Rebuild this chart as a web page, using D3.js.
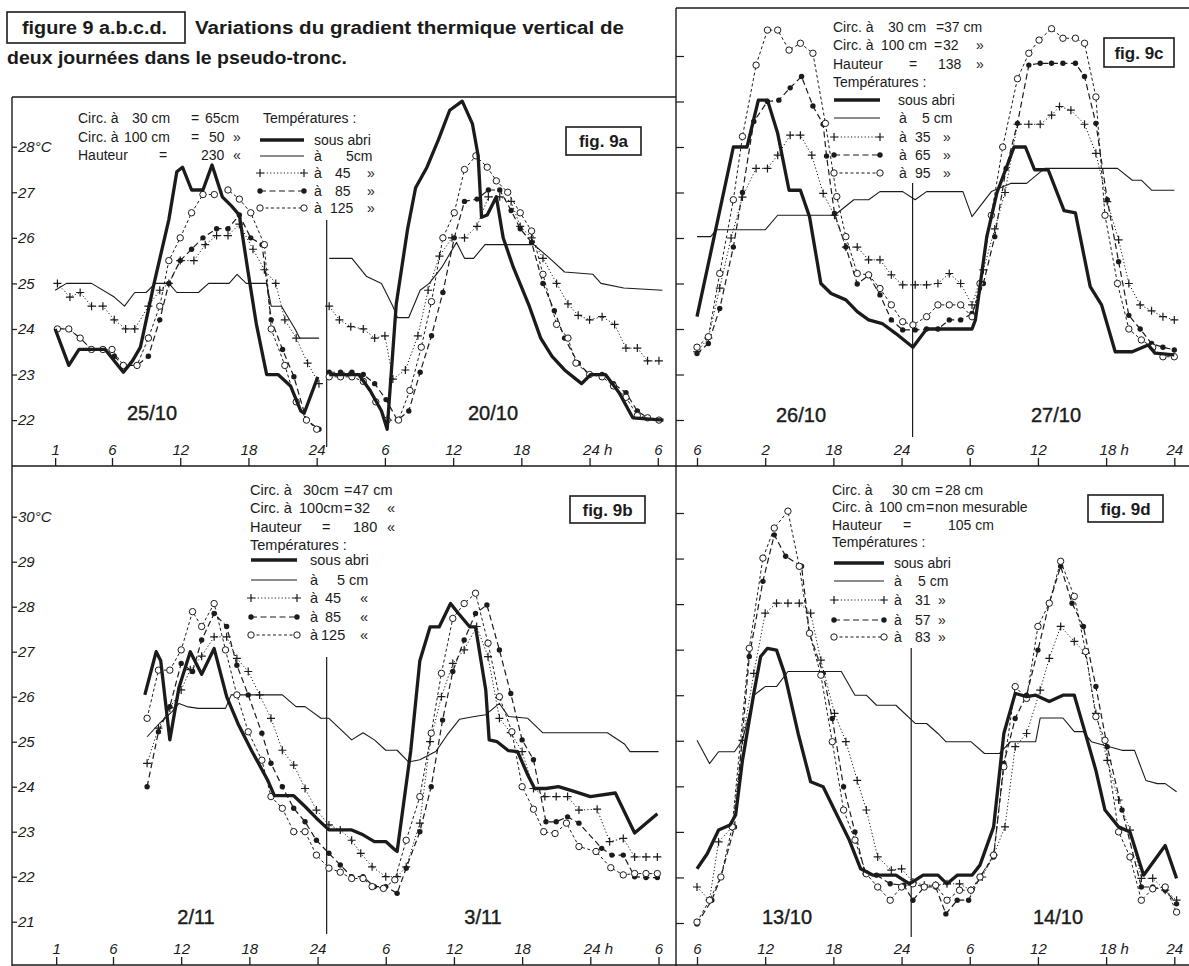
<!DOCTYPE html>
<html>
<head>
<meta charset="utf-8">
<script src="https://cdn.jsdelivr.net/npm/d3@7"></script>
<style>
  body { margin: 0; background: #fff; }
  svg text { font-family: "Liberation Sans", Arial, sans-serif; fill: #1b1b1b; }
  .tick text { font-size: 15px; font-style: italic; }
  .leg { font-size: 14px; }
  .legb { font-size: 14.5px; }
  .day { font-size: 20px; stroke: #1b1b1b; stroke-width: 0.4; }
  .fig { font-size: 17px; font-weight: bold; }
  .title { font-size: 18px; font-weight: bold; }
</style>
</head>
<body>
<svg id="fig" width="1189" height="966"></svg>
<script>
// hours counted from 0h of the first day of each panel, values in °C

// fig 9a, 25/10 then 20/10
const a1_abri = [[1,24.0],[2.2,23.2],[3.1,23.55],[5.4,23.55],[7,23.05],[7.8,23.3],[8.5,23.6],[9.7,25.0],[11,26.4],[11.7,27.45],[12.2,27.55],[13,27.05],[14,27.05],[14.8,27.6],[15.7,26.9],[16.5,26.7],[17.2,26.5],[18,25.2],[18.7,24.1],[19.6,23.0],[20.6,23.0],[21.7,22.75],[22.6,22.2],[22.9,22.15],[24.1,22.95]];
const a1_5 = [[1,24.85],[2,25.0],[4.2,25.0],[6.2,24.7],[7.1,24.5],[8,24.8],[9,24.8],[9.8,25.0],[11,25.0],[11.7,24.8],[13.6,24.8],[14.5,25.0],[16.3,25.0],[17,25.2],[17.8,25.0],[19.6,25.0],[20,24.5],[20.9,24.5],[22.1,24.0],[22.5,23.8],[24.2,23.8]];
const a1_45 = [[1.2,25.0],[2.3,24.7],[3.2,24.8],[4.2,24.5],[5.2,24.5],[6.2,24.2],[7.2,24.0],[8,24.0],[9.2,24.5],[10.2,24.85],[11,25.0],[12,25.5],[13.2,25.5],[14.2,25.85],[15.2,26.05],[16.2,26.05],[17.2,26.3],[18.4,25.75],[19.4,25.3],[20.4,25.0],[21.2,24.2],[22.2,23.8],[23.2,23.25],[24.2,22.8]];
const a1_85 = [[1.2,24.0],[2.2,24.0],[3.2,23.8],[4.2,23.55],[5.2,23.55],[6.2,23.4],[7,23.2],[8.2,23.2],[9.2,23.4],[10.2,24.2],[11,25.0],[12,25.5],[13,25.75],[14,26.0],[15.2,26.2],[16.2,26.2],[17.2,26.5],[18.2,26.0],[19.2,25.85],[20,24.2],[21,23.55],[22,22.95],[23.1,22.0],[24.2,21.8]];
const a1_125 = [[1.2,24.0],[2.2,24.0],[3.2,23.8],[4.2,23.55],[5.2,23.55],[6,23.55],[7,23.2],[8.2,23.2],[9.2,23.8],[10.2,24.5],[11,25.5],[12,26.0],[13,26.55],[14,26.95],[15,26.95],[16.2,27.05],[17.2,26.85],[18.2,26.55],[19.4,25.85],[20,24.0],[21.2,23.2],[22.2,22.4],[23.1,22.0],[24,21.8]];
const a2_abri = [[25.1,23.0],[27.7,23.0],[28.7,22.65],[29.7,22.2],[30.2,21.8],[31,24.55],[32,26.2],[32.7,27.1],[33.7,27.55],[34.7,28.15],[35.7,28.8],[36.8,29.0],[37.7,28.5],[38.2,27.8],[38.5,26.45],[39,26.5],[39.8,26.9],[40.4,26.0],[41.3,25.35],[42.7,24.5],[43.7,23.8],[44.7,23.4],[45.8,23.1],[46.8,22.9],[47.3,22.8],[48.1,23.0],[49.4,23.0],[50.6,22.6],[51.8,22.05],[54.5,22.0]];
const a2_5 = [[25.1,25.55],[27.1,25.55],[28.4,25.15],[29.7,25.0],[30.7,24.5],[31.1,24.25],[32.1,24.25],[33.1,24.85],[33.9,25.0],[35,25.35],[36.3,25.9],[37,25.55],[37.8,25.55],[38.8,25.85],[43.1,25.85],[44.5,25.55],[45.8,25.25],[48.3,25.2],[49,25.0],[51,24.9],[54.4,24.85]];
const a2_45 = [[25.1,24.5],[26,24.2],[27,24.05],[28.1,24.0],[29.1,23.8],[30,23.85],[30.7,22.9],[31.8,23.1],[32.9,23.85],[33.8,24.85],[34.8,25.6],[35.9,26.0],[37,26.0],[38.1,26.25],[39.1,26.9],[40.1,26.9],[41.1,26.8],[41.9,26.25],[42.9,26.0],[43.9,25.55],[45.1,25.0],[46.1,24.55],[47,24.3],[48,24.2],[49.1,24.27],[50.2,24.1],[51.2,23.58],[52.2,23.58],[53.1,23.3],[54.1,23.3]];
const a2_85 = [[25.1,23.05],[26.1,23.05],[27.1,23.05],[28.1,23.0],[29.1,22.8],[30.1,22.45],[31.1,22.0],[32.1,22.2],[33.1,23.05],[34.1,23.85],[35.1,24.8],[36.1,26.0],[37,26.8],[38.1,26.85],[39.1,27.05],[40.1,27.05],[41.1,26.6],[41.9,26.2],[42.9,25.9],[43.9,25.0],[44.9,24.4],[45.8,23.8],[47,23.25],[48,23.0],[49.1,23.0],[50.1,22.8],[51.2,22.6],[52.2,22.2],[53.1,22.05],[54.1,22.0]];
const a2_125 = [[25.1,22.95],[26.1,22.95],[27.1,22.95],[28.1,22.85],[29.2,22.4],[30.2,22.0],[31.2,22.0],[32.2,22.65],[33.2,23.6],[34.1,24.6],[35.1,26.0],[36.1,26.55],[37,27.5],[38,27.8],[39,27.55],[39.8,27.25],[40.8,27.0],[41.9,26.55],[42.9,26.15],[43.9,25.2],[45.1,24.1],[46.1,23.8],[46.8,23.25],[48,23.0],[49.1,22.95],[50.1,22.75],[51.2,22.5],[52.2,22.1],[53.1,22.05],[54.1,22.0]];

// fig 9b, 2/11 - 3/11
const b_abri = [[8.8,26.04],[9.8,27.0],[10.2,26.8],[11,25.04],[11.8,26.2],[12.8,27.0],[13.8,26.5],[14.9,27.07],[16,26.0],[17,25.4],[18.2,24.8],[19.6,24.15],[20.2,23.8],[21.9,23.8],[22.9,23.56],[23.9,23.3],[25,23.04],[27,23.04],[28,22.93],[29,22.78],[30,22.78],[30.8,22.6],[31,22.56],[32.2,24.8],[33,26.8],[33.9,27.55],[34.7,27.55],[35.7,28.07],[36.4,27.85],[37.4,27.55],[37.9,27.55],[38.8,26.15],[39.1,25.04],[39.8,25.0],[40.8,24.8],[41.6,24.78],[42.5,24.26],[43.1,23.96],[44.1,23.96],[45.2,24.0],[46.5,23.9],[48,23.78],[50.2,23.86],[51.9,22.97],[53.9,23.4]];
const b_5 = [[9,25.11],[10.1,25.41],[11.2,25.67],[11.8,25.85],[12.5,25.78],[13.5,25.74],[15.9,25.74],[16.4,26.04],[20.9,26.04],[22.1,25.78],[22.9,25.78],[24.3,25.52],[25,25.52],[27,25.04],[28,25.2],[29,25.04],[30,24.81],[31,24.81],[32,24.55],[33,24.6],[34.4,24.78],[35.4,25.15],[36.5,25.5],[37.8,25.56],[38.8,25.6],[40,25.85],[40.8,25.56],[42.5,25.52],[43.8,25.2],[48,25.2],[49.5,25.2],[51,24.95],[51.5,24.78],[54,24.78]];
const b_45 = [[9,24.52],[10,25.3],[11,25.75],[12,26.15],[12.8,26.6],[13.8,26.9],[14.9,27.33],[16,27.33],[16.9,26.85],[17.9,26.56],[18.9,26.04],[19.9,25.52],[20.9,24.81],[21.9,24.48],[22.9,23.96],[23.9,23.48],[25,23.15],[26,23.04],[27,22.81],[27.8,22.52],[28.8,22.22],[30,22.0],[31,22.0],[31.8,22.22],[33,23.19],[33.9,25.0],[34.9,26.0],[35.9,26.74],[36.9,27.04],[38,27.56],[39,26.89],[40,25.52],[41,25.2],[42,24.78],[43,23.96],[44,23.78],[45,23.78],[46,23.78],[47,23.48],[48.6,23.5],[49.7,22.78],[50.9,22.85],[51.9,22.44],[52.9,22.44],[53.9,22.44]];
const b_85 = [[9,24.0],[10,25.22],[11,25.78],[12,26.74],[13,26.56],[13.8,27.26],[14.9,27.85],[16,27.56],[16.9,26.7],[17.9,26.04],[19.1,25.19],[19.9,24.52],[20.9,24.0],[21.9,23.52],[22.9,23.22],[23.9,22.81],[25,22.52],[26,22.26],[27,22.0],[28,22.0],[29,21.78],[30,21.78],[31,21.63],[31.8,22.19],[33,23.0],[34,24.0],[35,25.48],[35.9,26.56],[36.9,27.26],[37.9,27.85],[38.9,28.04],[40,27.04],[41,26.07],[42,25.04],[43,24.6],[44.1,23.22],[45,23.22],[46,23.33],[47,23.19],[49,22.63],[49.9,22.48],[50.9,22.48],[51.9,22.0],[52.9,21.98],[53.9,21.98]];
const b_125 = [[9,25.52],[10,26.59],[11,26.59],[12,27.04],[13,27.89],[13.8,27.56],[14.9,28.07],[15.9,27.04],[16.9,26.04],[17.9,25.22],[19.1,24.59],[19.9,23.78],[20.9,23.52],[21.9,23.0],[22.9,23.0],[23.9,22.48],[25,22.19],[26,22.1],[27,21.96],[28,21.96],[28.8,21.78],[29.8,21.74],[30.8,21.93],[31.8,22.81],[33,23.78],[34,25.19],[34.9,26.52],[35.9,27.74],[36.9,28.07],[37.9,28.3],[39,27.19],[40,26.0],[41.1,25.22],[42,24.0],[43,23.5],[43.9,23.0],[44.9,22.96],[45.9,23.19],[47,22.67],[48.5,22.56],[49.8,22.2],[50.9,22.04],[51.9,22.07],[52.9,22.07],[53.9,22.07]];

// fig 9c, 26/10 - 27/10
const c_abri = [[6,24.27],[9.2,28.0],[10.4,28.0],[11.4,29.03],[12.2,29.03],[13.1,28.3],[14.1,27.05],[15.1,27.05],[15.9,26.47],[16.9,25.0],[17.8,24.78],[19.1,24.64],[20.1,24.38],[21.1,24.2],[22.3,24.12],[23.5,23.9],[25,23.6],[26.2,24.0],[30.2,24.0],[30.5,24.2],[31.5,26.03],[32.4,27.0],[33.9,28.0],[34.9,28.0],[35.7,27.5],[36.9,27.5],[38.3,26.6],[39.3,26.55],[40.6,24.93],[41.6,24.53],[42.8,23.5],[44.3,23.5],[45.7,23.65],[46.3,23.47],[48,23.43]];
const c_5 = [[6,26.03],[7.2,26.03],[7.7,26.18],[12,26.18],[13.1,26.5],[18.1,26.5],[19.8,26.84],[21.1,26.84],[22.1,27.02],[24.1,27.02],[25.2,26.84],[26.2,27.02],[29.4,27.02],[30.2,26.47],[31.9,27.02],[33.6,27.2],[35,27.2],[36.6,27.53],[43,27.53],[44.3,27.27],[45.1,27.27],[46,27.05],[48,27.05]];
const c_35 = [[6,23.5],[7,23.8],[8,24.9],[9,26.0],[10,26.9],[11.2,27.53],[12.2,27.53],[13.1,27.82],[14.2,28.26],[15.1,28.26],[16.1,27.82],[17.1,26.98],[18.1,26.5],[19.1,25.8],[20.1,25.8],[21.1,25.52],[22.1,25.52],[23.1,25.19],[24.1,24.97],[25.2,24.97],[26.2,24.97],[27.2,25.0],[28.2,25.22],[29.2,25.0],[30.2,24.53],[31.2,25.3],[32.2,26.2],[33.1,27.0],[34.2,28.5],[35.2,28.5],[36.2,28.5],[37.2,28.7],[37.9,28.89],[38.9,28.81],[40.1,28.5],[41.1,27.86],[42.1,26.8],[43.1,25.96],[44,25.0],[45,24.53],[46,24.4],[47,24.27],[48,24.2]];
const c_65 = [[6,23.46],[7,23.68],[8,24.45],[9.2,25.8],[10,27.0],[11,28.56],[12.2,29.0],[13.2,29.03],[14.2,29.3],[15.2,29.55],[16.2,28.9],[17.1,28.5],[17.4,27.8],[18.1,26.54],[19.1,25.8],[20.1,24.99],[21.1,25.18],[22.1,24.75],[23.1,24.2],[24.1,23.98],[25.2,23.98],[26.2,24.0],[27.2,24.0],[28.2,24.2],[29.2,24.2],[30.2,24.34],[31.2,25.0],[32.2,26.03],[33.2,27.53],[34.2,28.52],[35.2,29.8],[36.2,29.84],[37.2,29.84],[38.2,29.84],[39.3,29.84],[40.1,29.55],[41.1,28.52],[42.1,26.84],[43.1,25.48],[44,24.3],[45,24.0],[46,23.68],[47,23.6],[48,23.54]];
const c_95 = [[6,23.6],[7,23.83],[8,25.22],[9.2,26.84],[10,28.23],[11.2,29.8],[12.2,30.57],[13.1,30.57],[14.1,30.13],[15.1,30.28],[16.2,30.06],[17.3,28.52],[18.3,26.91],[19.1,26.03],[20.1,25.22],[21.1,25.19],[22.1,24.89],[23.1,24.53],[24.1,24.16],[25,24.09],[26.2,24.27],[27.2,24.53],[28.2,24.53],[29.2,24.53],[30.2,24.27],[30.9,25.0],[31.9,26.5],[32.9,28.0],[34.2,29.5],[35.2,30.06],[36.1,30.35],[37.2,30.6],[38.2,30.39],[39.3,30.39],[40.1,30.28],[41.1,29.1],[41.9,26.5],[43,25.0],[44,24.0],[45.1,23.76],[46.1,23.6],[47,23.39],[48,23.39]];

// fig 9d, 13/10 - 14/10
const d_abri = [[6,22.19],[6.9,22.52],[7.9,23.04],[8.9,23.15],[9.4,23.37],[10,24.57],[11,26.04],[11.6,26.85],[12.2,27.03],[13,26.99],[13.7,26.48],[14.9,25.16],[16,24.1],[17.1,23.99],[18.1,23.48],[19.4,22.82],[20.4,22.19],[21.5,22.05],[23.5,22.05],[24.7,21.86],[25.9,22.05],[27.2,22.05],[28,21.86],[28.9,22.05],[30.2,22.05],[30.9,22.27],[32.1,23.11],[33,25.16],[34,26.04],[35,25.97],[35.8,26.0],[37,25.86],[38.2,26.0],[39.2,26.0],[40,25.31],[41.1,24.35],[41.9,23.48],[43.1,23.11],[44.1,23.0],[45.3,22.05],[47.2,22.7],[48.2,21.98]];
const d_5 = [[6,25.01],[7.1,24.5],[7.9,24.76],[9.3,24.76],[10,25.01],[11,26.0],[12,26.19],[13,26.19],[14,26.52],[18.7,26.52],[19.9,26.0],[20.9,26.0],[21.8,25.78],[23.5,25.78],[25.2,25.38],[26.2,25.38],[27.2,25.16],[27.9,24.98],[30.1,24.98],[31.3,24.72],[32.6,24.72],[33.6,24.98],[35.8,24.98],[36.2,25.5],[38.2,25.5],[39.2,25.2],[40,25.2],[40.7,24.98],[43.4,24.79],[44.5,24.79],[45.5,24.13],[46.5,24.06],[47.2,24.06],[48.2,23.88]];
const d_31 = [[6,21.79],[7.1,21.5],[7.9,22.78],[9.1,23.11],[10,25.01],[11,26.48],[12,27.8],[13,28.02],[14,28.02],[15,28.02],[16,27.8],[16.9,26.77],[18.1,25.6],[19.1,24.98],[20.1,24.13],[20.9,23.48],[21.9,22.45],[23.1,22.16],[24,22.19],[25,21.9],[26,21.83],[27,21.83],[28,21.86],[29.1,21.86],[30.1,21.72],[31.1,22.01],[32.1,22.49],[33.1,23.11],[34,24.87],[35,25.16],[36.2,26.11],[37,26.81],[38,27.51],[39.2,27.18],[40.2,26.92],[41.1,25.6],[42.1,24.57],[43.1,23.7],[44.1,23.04],[45.1,21.98],[46.1,21.98],[47.2,21.72],[48.2,21.5]];
const d_57 = [[6,20.98],[7.3,21.5],[8.1,22.01],[9.3,23.11],[10.6,26.85],[11.8,28.5],[12.8,29.52],[13.8,29.05],[15.2,28.83],[15.9,27.36],[17.1,26.48],[17.9,25.49],[18.9,23.99],[19.9,23.0],[20.8,22.08],[21.8,22.05],[23,21.86],[24.2,21.83],[25,21.5],[26,21.79],[27,21.79],[27.9,21.2],[28.9,21.5],[29.9,21.5],[30.9,22.01],[32.1,22.45],[33,24.5],[34,25.49],[35,26.0],[36,26.99],[37,28.02],[38,28.83],[39,28.02],[40,27.51],[41.1,26.19],[42.1,24.87],[43.4,23.48],[45.1,21.79],[46.1,21.79],[47.2,21.72],[48.2,21.42]];
const d_83 = [[6,21.02],[7.1,21.5],[8.1,22.01],[9.1,23.11],[10.6,27.03],[11.8,29.01],[12.8,29.67],[14,30.04],[15,28.83],[15.9,27.36],[16.9,26.44],[17.9,24.98],[18.9,23.48],[19.9,22.82],[20.9,22.08],[21.9,21.79],[23,21.5],[24,21.79],[25,21.86],[26,21.79],[27,21.83],[28,21.5],[29.1,21.72],[30.1,21.72],[30.9,22.01],[32.1,22.49],[33,24.43],[34,26.19],[35,25.93],[36,27.51],[37,28.02],[38,28.94],[39.2,28.17],[40.2,26.96],[41.1,25.53],[41.9,25.01],[43.1,23.0],[44.1,22.45],[45.1,21.5],[46.1,21.75],[47.2,21.79],[48.2,21.24]];

// axis ticks (hours) and their printed labels
const ticksAB = [1, 6, 12, 18, 24, 30, 36, 42, 48, 54];
const labelsAB = ["1", "6", "12", "18", "24", "6", "12", "18", "24 h", "6"];
const ticksCD = [6, 12, 18, 24, 30, 36, 42, 48];
const labelsC = ["6", "2", "18", "24", "6", "12", "18 h", "24"];
const labelsD = ["6", "12", "18", "24", "6", "12", "18 h", "24"];
const tempsA = [22, 23, 24, 25, 26, 27, 28];
const tempsB = [21, 22, 23, 24, 25, 26, 27, 28, 29, 30];
const tempsC = [22, 23, 24, 25, 26, 27, 28, 29, 30];

const INK = "#1b1b1b";
const svg = d3.select("#fig");
svg.append("rect").attr("width", 1189).attr("height", 966).attr("fill", "#fff");

const styles = [
  {w: 1.1, dash: null, mark: null},          // à 5 cm
  {w: 1, dash: "1.2,2.2", mark: "plus"},
  {w: 1.2, dash: "6,3.5", mark: "dot"},
  {w: 1, dash: "3,2.5", mark: "ring"},
  {w: 3.3, dash: null, mark: null}           // sous abri
];

function marks(g, pts, kind) {
  pts.forEach(([x, y]) => {
    if (kind === "plus") {
      g.append("path").attr("d", `M${x - 4},${y}H${x + 4}M${x},${y - 4}V${y + 4}`)
        .attr("stroke", INK).attr("stroke-width", 1.2);
    } else if (kind === "dot") {
      g.append("circle").attr("cx", x).attr("cy", y).attr("r", 2.7).attr("fill", INK);
    } else if (kind === "ring") {
      g.append("circle").attr("cx", x).attr("cy", y).attr("r", 3.2)
        .attr("fill", "#fff").attr("stroke", INK).attr("stroke-width", 1);
    }
  });
}

function seg(g, d, st) {
  g.append("path").attr("d", d).attr("fill", "none").attr("stroke", INK)
    .attr("stroke-width", st.w).attr("stroke-dasharray", st.dash)
    .attr("stroke-linejoin", "round");
}

const panels = [
  {
    x: d3.scaleLinear().domain([6, 54]).range([112, 657.8]),
    y: d3.scaleLinear().domain([22, 28]).range([420.1, 146.7]),
    left: 12, base: 466, ticks: ticksAB, labels: labelsAB, temps: tempsA, unit: 28, split: 24.88,
    vline: [220, 447], cls: "leg",
    series: [[a1_5, a2_5], [a1_45, a2_45], [a1_85, a2_85], [a1_125, a2_125], [a1_abri, a2_abri]],
    days: [["25/10", 152, 420], ["20/10", 493, 420]],
    box: [566, 127, 75, 28, "fig. 9a"],
    info: [
      [123, [[78, "Circ. à"], [132, "30 cm"], [191, "="], [205, "65cm"], [263, "Températures :"]]],
      [142, [[78, "Circ. à"], [124, "100 cm"], [191, "="], [209, "50"], [233, "»"]]],
      [160, [[78, "Hauteur"], [159, "="], [201, "230"], [233, "«"]]]
    ],
    leg: {x0: 260, x1: 304, tx: 314, rows: [140, 156, 173, 191, 208],
      text: [[[0, "sous abri"]], [[0, "à"], [32, "5cm"]], [[0, "à"], [21, "45"], [53, "»"]],
             [[0, "à"], [21, "85"], [53, "»"]], [[0, "à"], [16, "125"], [53, "»"]]]}
  },
  {
    x: d3.scaleLinear().domain([6, 54]).range([113, 658.5]),
    y: d3.scaleLinear().domain([21, 30]).range([921.7, 516.7]),
    left: 12, base: 965, ticks: ticksAB, labels: labelsAB, temps: tempsB, unit: 30, split: 24.8,
    vline: [657, 934], cls: "legb",
    series: [[b_5], [b_45], [b_85], [b_125], [b_abri]],
    days: [["2/11", 196, 924], ["3/11", 483, 924]],
    box: [570, 496, 75, 27, "fig. 9b"],
    info: [
      [495, [[250, "Circ. à"], [303, "30cm"], [344, "="], [353, "47 cm"]]],
      [513, [[250, "Circ. à"], [299, "100cm"], [344, "="], [354, "32"], [387, "«"]]],
      [532, [[250, "Hauteur"], [322, "="], [353, "180"], [387, "«"]]],
      [550, [[250, "Températures :"]]]
    ],
    leg: {x0: 251, x1: 297, tx: 310, rows: [560, 580, 598, 617, 635],
      text: [[[0, "sous abri"]], [[0, "à"], [27, "5 cm"]], [[0, "à"], [15, "45"], [50, "«"]],
             [[0, "à"], [15, "85"], [50, "«"]], [[0, "à"], [11, "125"], [50, "«"]]]}
  },
  {
    x: d3.scaleLinear().domain([6, 48]).range([697, 1174.3]),
    y: d3.scaleLinear().domain([22, 28]).range([420, 147]),
    left: 676, base: 466, ticks: ticksCD, labels: labelsC, temps: tempsC, unit: null, split: 24.97,
    vline: [183, 437], cls: "leg",
    series: [[c_5], [c_35], [c_65], [c_95], [c_abri]],
    days: [["26/10", 801, 422], ["27/10", 1056, 422]],
    box: [1104, 38, 70, 29, "fig. 9c"],
    info: [
      [32, [[833, "Circ. à"], [888, "30 cm"], [936, "="], [944, "37 cm"]]],
      [50, [[833, "Circ. à"], [881, "100 cm"], [934, "="], [943, "32"], [976, "»"]]],
      [69, [[833, "Hauteur"], [909, "="], [938, "138"], [976, "»"]]],
      [87, [[833, "Températures :"]]]
    ],
    leg: {x0: 834, x1: 880, tx: 898, rows: [100, 118, 137, 155, 173],
      text: [[[0, "sous abri"]], [[1, "à"], [24, "5 cm"]], [[1, "à"], [17, "35"], [45, "»"]],
             [[1, "à"], [17, "65"], [45, "»"]], [[1, "à"], [17, "95"], [45, "»"]]]}
  },
  {
    x: d3.scaleLinear().domain([6, 48]).range([697, 1174.3]),
    y: d3.scaleLinear().domain([21, 30]).range([923, 513]),
    left: 676, base: 965, ticks: ticksCD, labels: labelsD, temps: tempsB, unit: null, split: 24.85,
    vline: [648, 937], cls: "leg",
    series: [[d_5], [d_31], [d_57], [d_83], [d_abri]],
    days: [["13/10", 787, 924], ["14/10", 1058, 924]],
    box: [1088, 495, 75, 27, "fig. 9d"],
    info: [
      [495, [[832, "Circ. à"], [892, "30 cm"], [935, "="], [945, "28 cm"]]],
      [512, [[832, "Circ. à"], [879, "100 cm"], [926, "="], [935, "non mesurable"]]],
      [530, [[832, "Hauteur"], [903, "="], [948, "105 cm"]]],
      [547, [[832, "Températures :"]]]
    ],
    leg: {x0: 834, x1: 884, tx: 894, rows: [563, 581, 600, 620, 637],
      text: [[[0, "sous abri"]], [[0, "à"], [24, "5 cm"]], [[0, "à"], [21, "31"], [44, "»"]],
             [[0, "à"], [21, "57"], [44, "»"]], [[0, "à"], [21, "83"], [44, "»"]]]}
  }
];

// frame
const frame = d3.path();
frame.moveTo(12, 97); frame.lineTo(676, 97);
frame.moveTo(676, 8); frame.lineTo(1189, 8);
frame.moveTo(12, 97); frame.lineTo(12, 966);
frame.moveTo(676, 8); frame.lineTo(676, 966);
frame.moveTo(12, 466); frame.lineTo(1189, 466);
frame.moveTo(12, 965); frame.lineTo(1189, 965);
svg.append("path").attr("d", frame.toString()).attr("fill", "none").attr("stroke", INK).attr("stroke-width", 1.4);

panels.forEach(p => {
  const g = svg.append("g");

  // hour axis
  g.append("g").attr("transform", `translate(0,${p.base})`)
    .call(d3.axisTop(p.x).tickValues(p.ticks).tickFormat((d, i) => p.labels[i]).tickSize(8).tickPadding(3))
    .call(a => a.select(".domain").remove())
    .call(a => a.selectAll(".tick line").attr("stroke", INK).attr("stroke-width", 1.3))
    .call(a => a.selectAll(".tick text").filter(function() { return this.textContent.includes(" h"); })
      .attr("text-anchor", "start").attr("x", -7));

  // temperature axis
  g.append("g").attr("transform", `translate(${p.left},0)`)
    .call(d3.axisRight(p.y).tickValues(p.temps).tickSize(p.unit ? 5 : 8).tickPadding(1)
      .tickFormat(d => p.unit ? (d === p.unit ? d + "°C" : d) : ""))
    .call(a => a.select(".domain").remove())
    .call(a => a.selectAll(".tick line").attr("stroke", INK).attr("stroke-width", 1.2));

  // day separator
  g.append("line").attr("x1", p.x(p.split)).attr("x2", p.x(p.split))
    .attr("y1", p.vline[0]).attr("y2", p.vline[1]).attr("stroke", INK).attr("stroke-width", 1.2);

  const line = d3.line().x(d => p.x(d[0])).y(d => p.y(d[1]));
  p.series.forEach((segs, k) => {
    const st = styles[k];
    segs.forEach(s => {
      seg(g, line(s), st);
      if (st.mark) marks(g, s.map(d => [p.x(d[0]), p.y(d[1])]), st.mark);
    });
  });

  p.days.forEach(([t, x, y]) => g.append("text").attr("class", "day")
    .attr("x", x).attr("y", y).attr("text-anchor", "middle").text(t));

  const [bx, by, bw, bh, bt] = p.box;
  g.append("rect").attr("x", bx).attr("y", by).attr("width", bw).attr("height", bh)
    .attr("fill", "#fff").attr("stroke", INK).attr("stroke-width", 1.6);
  g.append("text").attr("class", "fig").attr("x", bx + bw / 2).attr("y", by + bh / 2 + 6)
    .attr("text-anchor", "middle").text(bt);

  p.info.forEach(([y, parts]) => parts.forEach(([x, t]) =>
    g.append("text").attr("class", p.cls).attr("x", x).attr("y", y).text(t)));

  // legend: order sous abri, 5 cm, +, •, o
  const order = [4, 0, 1, 2, 3];
  p.leg.rows.forEach((y, r) => {
    const st = styles[order[r]];
    seg(g, `M${p.leg.x0},${y}H${p.leg.x1}`, st);
    if (st.mark) marks(g, [[p.leg.x0, y], [p.leg.x1, y]], st.mark);
    p.leg.text[r].forEach(([dx, t]) => g.append("text").attr("class", p.cls)
      .attr("x", p.leg.tx + dx).attr("y", y + 5).text(t));
  });
});

// title
svg.append("rect").attr("x", 7).attr("y", 12).attr("width", 178).attr("height", 31)
  .attr("fill", "none").attr("stroke", INK).attr("stroke-width", 1.6);
svg.append("text").attr("class", "title").attr("x", 22).attr("y", 34)
  .attr("textLength", 145).attr("lengthAdjust", "spacingAndGlyphs").text("figure 9 a.b.c.d.");
svg.append("text").attr("class", "title").attr("x", 195).attr("y", 34)
  .attr("textLength", 429).attr("lengthAdjust", "spacingAndGlyphs")
  .text("Variations du gradient thermique vertical de");
svg.append("text").attr("class", "title").attr("x", 7).attr("y", 64)
  .attr("textLength", 340).attr("lengthAdjust", "spacingAndGlyphs")
  .text("deux journées dans le pseudo-tronc.");
</script>
</body>
</html>
